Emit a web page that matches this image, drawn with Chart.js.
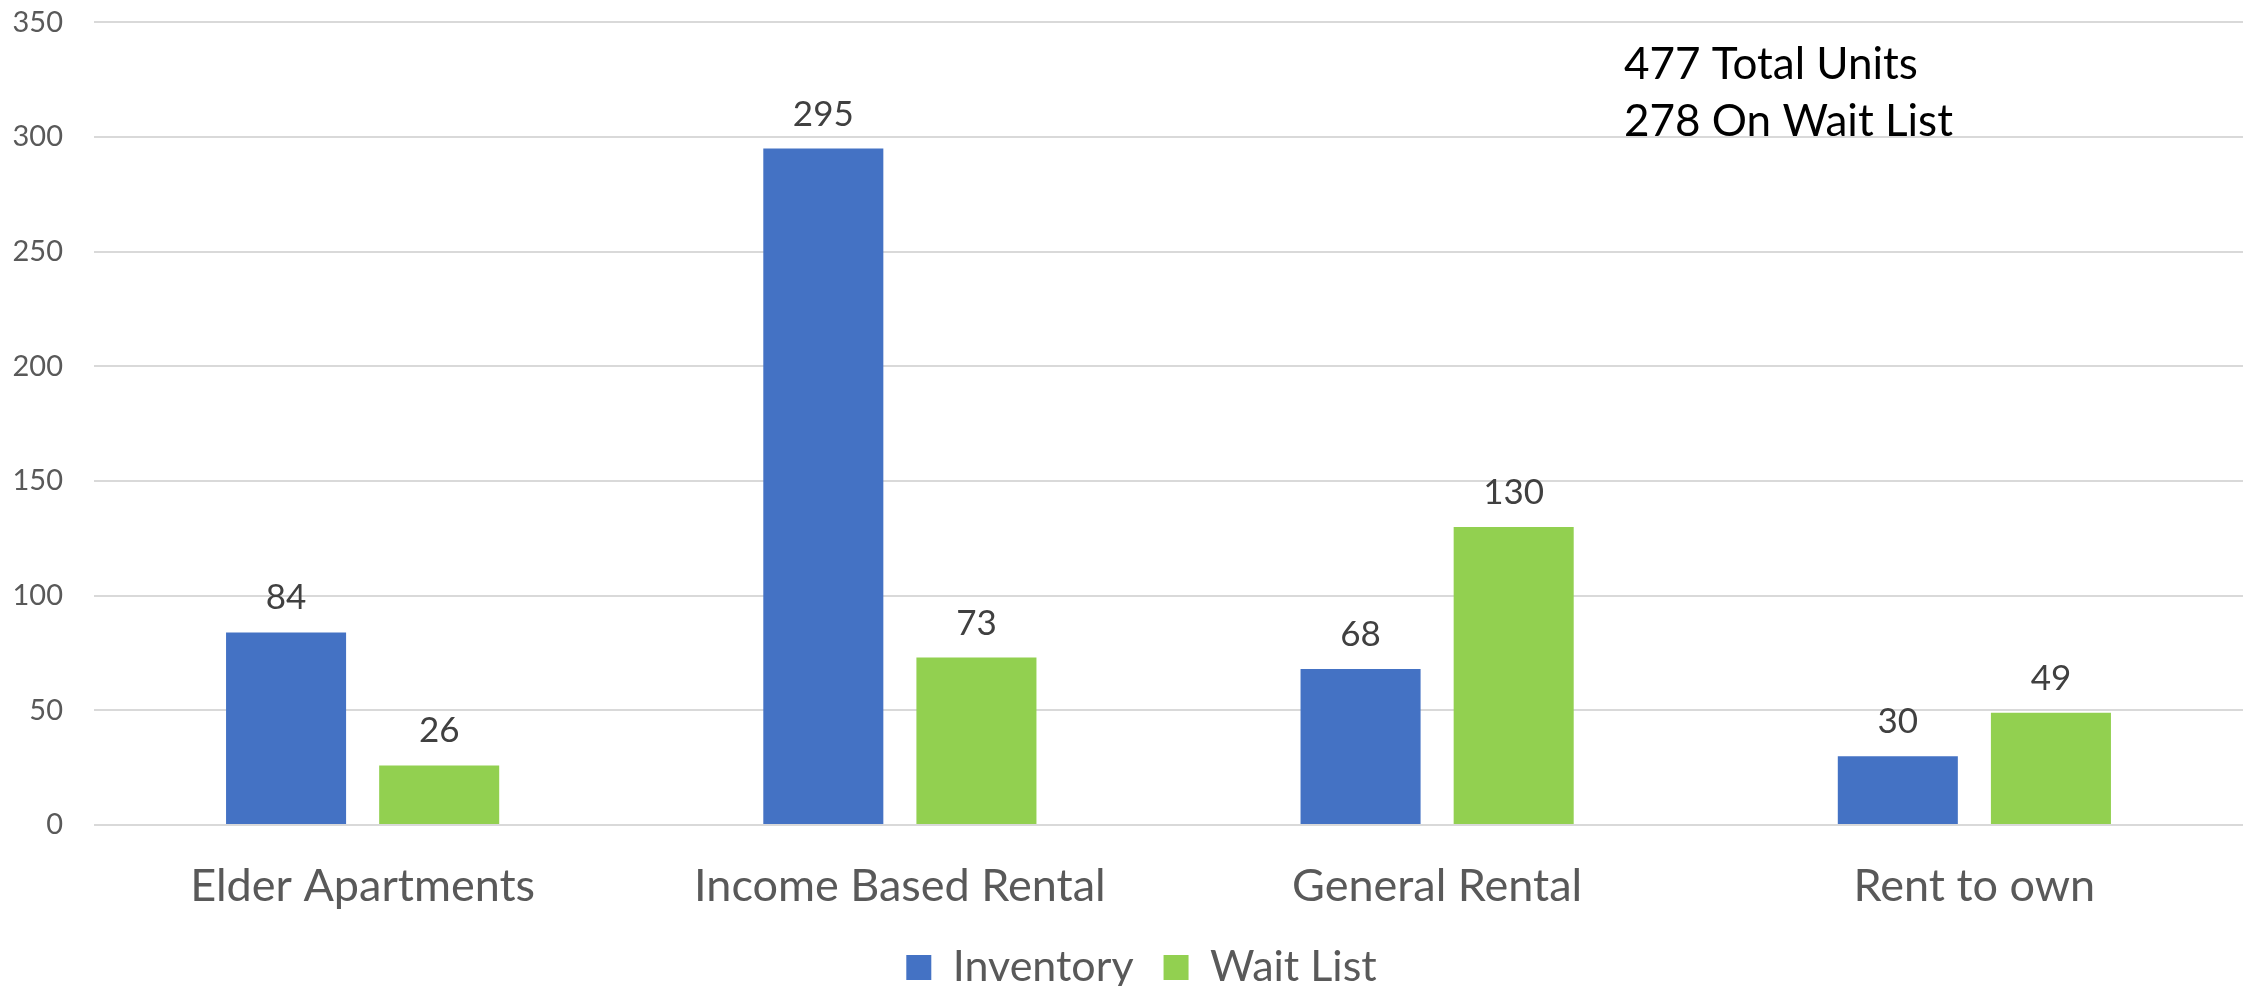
<!DOCTYPE html>
<html>
<head>
<meta charset="utf-8">
<script src="https://cdn.jsdelivr.net/npm/chart.js@4.4.0/dist/chart.umd.min.js"></script>
<style>
  html, body { margin: 0; padding: 0; background: #fff; }
  #wrap { width: 2247px; height: 986px; }
</style>
</head>
<body>
<div id="wrap"><canvas id="myChart" width="2247" height="986"></canvas></div>
<script>
// chart data
var categories = ['Elder Apartments', 'Income Based Rental', 'General Rental', 'Rent to own'];
var inventory = [84, 295, 68, 30];
var waitList = [26, 73, 130, 49];
var seriesNames = ['Inventory', 'Wait List'];
var noteLines = ['477 Total Units', '278 On Wait List'];

var FONT = 'Lato';
var PLOT_BOTTOM = 825;
var PAD_BOTTOM = -13;

// numbers over each bar
var valueLabels = {
  id: 'valueLabels',
  afterDatasetsDraw: function(chart) {
    var ctx = chart.ctx;
    ctx.save();
    ctx.font = '35px ' + FONT;
    ctx.fillStyle = '#404040';
    ctx.textAlign = 'center';
    ctx.textBaseline = 'alphabetic';
    chart.data.datasets.forEach(function(ds, i) {
      chart.getDatasetMeta(i).data.forEach(function(bar, j) {
        ctx.fillText(ds.data[j], bar.x, bar.y - 23);
      });
    });
    ctx.restore();
  }
};

// the text box top right
var note = {
  id: 'note',
  afterDraw: function(chart) {
    var ctx = chart.ctx, area = chart.chartArea;
    ctx.save();
    ctx.font = '44px ' + FONT;
    ctx.fillStyle = '#000';
    ctx.textAlign = 'left';
    ctx.textBaseline = 'alphabetic';
    ctx.fillText(noteLines[0], area.left + 1530, area.top + 57);
    ctx.fillText(noteLines[1], area.left + 1530, area.top + 114);
    ctx.restore();
  }
};

// legend sits a bit right of the canvas centre in the original
var legendShift = {
  id: 'legendShift',
  afterUpdate: function(chart) {
    var lg = chart.legend;
    if (!lg) return;
    lg.left += 20;
    lg.right += 20;
    (lg.legendHitBoxes || []).forEach(function(h) { h.left += 20; });
  }
};

var ctx = document.getElementById('myChart').getContext('2d');
var myChart = new Chart(ctx, {
  type: 'bar',
  data: {
    labels: categories,
    datasets: [{
      label: seriesNames[0],
      data: inventory,
      backgroundColor: '#4472C4'
    }, {
      label: seriesNames[1],
      data: waitList,
      backgroundColor: '#92D050'
    }]
  },
  options: {
    responsive: false,
    animation: false,
    categoryPercentage: 0.57,
    barPercentage: 0.784,
    layout: { padding: { top: 0, right: 4, left: 0, bottom: PAD_BOTTOM } },
    plugins: {
      tooltip: { enabled: false },
      legend: {
        position: 'bottom',
        labels: {
          font: { family: FONT, size: 43 },
          color: '#595959',
          boxWidth: 25,
          boxHeight: 25,
          padding: 30
        }
      }
    },
    scales: {
      x: {
        grid: { display: false },
        border: { display: false },
        ticks: {
          font: { family: FONT, size: 45 },
          color: '#595959',
          padding: 26,
          maxRotation: 0
        },
        afterFit: function(scale) {
          var lg = scale.chart.legend;
          scale.height = 986 - PAD_BOTTOM - PLOT_BOTTOM - (lg ? lg.height : 0);
        }
      },
      y: {
        min: 0,
        max: 350,
        grid: { color: '#d9d9d9', lineWidth: 2, drawTicks: true, tickLength: 26, tickColor: 'rgba(0,0,0,0)' },
        border: { display: false },
        ticks: {
          stepSize: 50,
          font: { family: FONT, size: 29 },
          color: '#595959',
          padding: 5
        },
        afterFit: function(scale) { scale.width = 94; }
      }
    }
  },
  plugins: [valueLabels, note, legendShift]
});
</script>
</body>
</html>
